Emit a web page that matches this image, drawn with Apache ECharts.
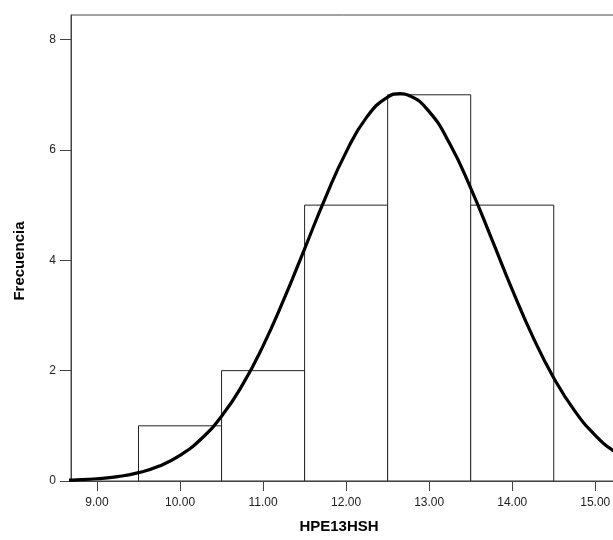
<!DOCTYPE html>
<html>
<head>
<meta charset="utf-8">
<script src="https://cdn.jsdelivr.net/npm/echarts@6/dist/echarts.min.js"></script>
<style>
html,body{margin:0;padding:0;background:#fff;}
#chart{width:613px;height:540px;}
</style>
</head>
<body>
<div id="chart"></div>
<script>
// Histogram bins (start of each bin), bin width 1
var binStarts = [9.5, 10.5, 11.5, 12.5, 13.5];
var binWidth = 1;
var counts = [1, 2, 5, 7, 5];

// Normal curve points
var curveX = [8.5, 8.75, 9.0, 9.25, 9.5, 9.75, 10.0, 10.25, 10.5, 10.75, 11.0, 11.25, 11.5, 11.75, 12.0, 12.25, 12.5, 12.65, 12.75, 13.0, 13.25, 13.5, 13.75, 14.0, 14.25, 14.5, 14.75, 15.0, 15.25, 15.5];
var curveY = [0.009, 0.020, 0.041, 0.080, 0.151, 0.271, 0.464, 0.757, 1.174, 1.737, 2.449, 3.290, 4.209, 5.132, 5.961, 6.599, 6.959, 7.02, 6.993, 6.695, 6.107, 5.309, 4.397, 3.469, 2.608, 1.868, 1.275, 0.829, 0.514, 0.303];

var xTicks = [9, 10, 11, 12, 13, 14, 15];
var yTicks = [0, 2, 4, 6, 8];
var xTitle = 'HPE13HSH';
var yTitle = 'Frecuencia';

var barData = binStarts.map(function (s, i) { return [s, s + binWidth, counts[i]]; });
var lineData = curveX.map(function (x, i) { return [x, curveY[i]]; });

var chart = echarts.init(document.getElementById('chart'), null, {renderer: 'canvas'});
var font = 'Arial, "Liberation Sans", sans-serif';
chart.setOption({
  animation: false,
  backgroundColor: '#fff',
  grid: {
    left: 71, top: 15, bottom: 59, right: -10,
    outerBoundsMode: 'none',
    containLabel: false,
    show: true, borderColor: '#444', borderWidth: 1, backgroundColor: 'transparent'
  },
  graphic: [
    {
      type: 'text', x: 339, y: 527,
      style: {text: xTitle, font: 'bold 15px ' + font, fill: '#000', align: 'center', verticalAlign: 'middle'}
    },
    {
      type: 'text', x: 20, y: 261, rotation: Math.PI / 2,
      style: {text: yTitle, font: 'bold 15px ' + font, fill: '#000', align: 'center', verticalAlign: 'middle'}
    }
  ],
  xAxis: {
    type: 'value',
    min: 8.687, max: 15.334,
    axisLine: {show: true, lineStyle: {color: '#444', width: 1}},
    axisTick: {show: true, customValues: xTicks, length: 10, lineStyle: {color: '#444'}},
    axisLabel: {
      customValues: xTicks, margin: 16, fontFamily: font, fontSize: 12, color: '#222',
      formatter: function (v) { return Number(v).toFixed(2); }
    },
    splitLine: {show: false}
  },
  yAxis: {
    type: 'value',
    min: 0, max: 8.446,
    axisLine: {show: true, lineStyle: {color: '#444', width: 1}},
    axisTick: {show: true, customValues: yTicks, length: 11, lineStyle: {color: '#444'}},
    axisLabel: {customValues: yTicks, margin: 15, fontFamily: font, fontSize: 12, color: '#222'},
    splitLine: {show: false}
  },
  series: [
    {
      type: 'custom',
      data: barData,
      clip: true,
      renderItem: function (params, api) {
        var p0 = api.coord([api.value(0), api.value(2)]);
        var p1 = api.coord([api.value(1), 0]);
        return {
          type: 'rect',
          shape: {x: p0[0], y: p0[1], width: p1[0] - p0[0], height: p1[1] - p0[1]},
          style: {fill: '#fff', stroke: '#222', lineWidth: 1}
        };
      },
      z: 1
    },
    {
      type: 'line',
      data: lineData,
      smooth: true,
      showSymbol: false,
      clip: true,
      lineStyle: {color: '#000', width: 3.2},
      z: 3
    }
  ]
});
</script>
</body>
</html>
